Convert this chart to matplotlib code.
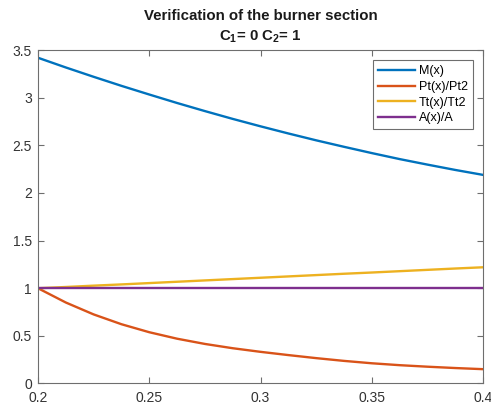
import matplotlib
matplotlib.use("Agg")
import matplotlib.pyplot as plt

# data (x step 0.0125)
x = [0.2, 0.2125, 0.225, 0.2375, 0.25, 0.2625, 0.275, 0.2875, 0.3,
     0.3125, 0.325, 0.3375, 0.35, 0.3625, 0.375, 0.3875, 0.4]
mach = [3.42, 3.318, 3.22, 3.125, 3.034, 2.945, 2.86, 2.778, 2.70,
        2.625, 2.553, 2.485, 2.419, 2.356, 2.298, 2.242, 2.19]
pt_ratio = [1.0, 0.85, 0.725, 0.622, 0.538, 0.47, 0.415, 0.37, 0.332,
            0.298, 0.266, 0.237, 0.212, 0.192, 0.176, 0.162, 0.15]
tt_ratio = [1.0, 1.013, 1.027, 1.04, 1.054, 1.068, 1.082, 1.096, 1.11,
            1.124, 1.138, 1.152, 1.165, 1.179, 1.193, 1.207, 1.22]
area_ratio = [1.0] * len(x)

labels = ["M(x)", "Pt(x)/Pt2", "Tt(x)/Tt2", "A(x)/A"]
colors = ["#0072BD", "#D95319", "#EDB120", "#7E2F8E"]

xticks = [0.2, 0.25, 0.3, 0.35, 0.4]
xticklabels = ["0.2", "0.25", "0.3", "0.35", "0.4"]
yticks = [0, 0.5, 1, 1.5, 2, 2.5, 3, 3.5]
yticklabels = ["0", "0.5", "1", "1.5", "2", "2.5", "3", "3.5"]

plt.rcParams["font.family"] = ["Liberation Sans", "DejaVu Sans"]
plt.rcParams["mathtext.fontset"] = "custom"
plt.rcParams["mathtext.rm"] = "Liberation Sans:bold"
plt.rcParams["mathtext.it"] = "Liberation Sans:bold"
plt.rcParams["mathtext.bf"] = "Liberation Sans:bold"

axcol = "#6e6e6e"

fig = plt.figure(figsize=(4.91, 4.11), dpi=100)
ax = fig.add_axes([0.0774, 0.067, 0.9065, 0.811])

for ys, lab, c in zip([mach, pt_ratio, tt_ratio, area_ratio], labels, colors):
    ax.plot(x, ys, color=c, lw=1.7, label=lab)

ax.set_xlim(0.2, 0.4)
ax.set_ylim(0, 3.5)
ax.set_xticks(xticks)
ax.set_xticklabels(xticklabels)
ax.set_yticks(yticks)
ax.set_yticklabels(yticklabels)
ax.tick_params(direction="in", top=True, right=True, length=4, width=0.8,
               colors=axcol, labelsize=10, labelcolor="#333333")
ax.tick_params(axis="x", pad=5.5)
ax.tick_params(axis="y", pad=4.5)
for sp in ax.spines.values():
    sp.set_color(axcol)
    sp.set_linewidth(0.8)

ax.set_title("Verification of the burner section\nC$_1$= 0 C$_2$= 1",
             fontsize=10.8, fontweight="bold", color="#1a1a1a", pad=7,
             linespacing=1.45)

leg = ax.legend(loc="upper right", fontsize=9, handlelength=3.0,
                frameon=True, fancybox=False, borderaxespad=0.8,
                labelspacing=0.3, borderpad=0.4, handletextpad=0.3)
leg.get_frame().set_edgecolor("#6e6e6e")
leg.get_frame().set_linewidth(0.8)
leg.get_frame().set_alpha(1)

fig.savefig("out.png", dpi=100)
